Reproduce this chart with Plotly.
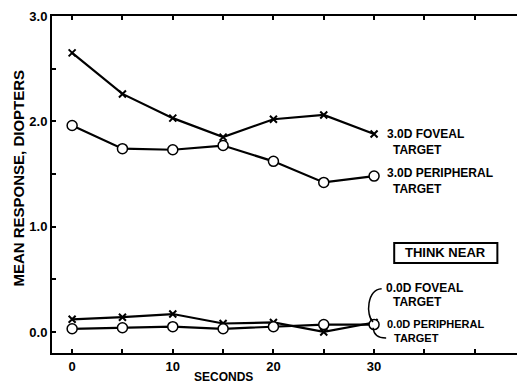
import plotly.graph_objects as go

# Time after onset of the "think near" instruction (s)
seconds = [0, 5, 10, 15, 20, 25, 30]

# Mean accommodative response (diopters)
foveal_3d = [2.65, 2.26, 2.03, 1.85, 2.02, 2.06, 1.88]
peripheral_3d = [1.96, 1.74, 1.73, 1.77, 1.62, 1.42, 1.48]
foveal_0d = [0.12, 0.14, 0.17, 0.08, 0.09, 0.00, 0.09]
peripheral_0d = [0.03, 0.04, 0.05, 0.03, 0.05, 0.07, 0.07]

x_tick_vals = [0, 5, 10, 15, 20, 25, 30, 35, 40]
x_tick_text = ["0", "", "10", "", "20", "", "30", "", ""]
y_tick_vals = [0.0, 0.5, 1.0, 1.5, 2.0, 2.5, 3.0]
y_tick_text = ["0.0", "", "1.0", "", "2.0", "", "3.0"]

FONT = "Liberation Sans, Arial, sans-serif"
INK = "black"


def lettering(size):
    return dict(family=FONT, size=size, color=INK, weight="bold")


fig = go.Figure()


def add_series(yvals, symbol):
    if symbol == "circle":
        marker = dict(symbol="circle", size=10, color="white",
                      line=dict(color=INK, width=1.5))
    else:
        marker = dict(symbol="x-thin", size=7, color=INK,
                      line=dict(color=INK, width=2))
    fig.add_trace(go.Scatter(
        x=seconds, y=yvals, mode="lines+markers",
        line=dict(color=INK, width=2.2), marker=marker,
        showlegend=False, hoverinfo="skip"))


add_series(foveal_3d, "x")
add_series(peripheral_3d, "circle")
add_series(foveal_0d, "x")
add_series(peripheral_0d, "circle")

# Curve labels placed beside the last points
labels = [
    ("3.0D FOVEAL", 31.05, foveal_3d[-1] - 0.005, 12),
    ("TARGET", 31.7, foveal_3d[-1] - 0.155, 12),
    ("3.0D PERIPHERAL", 31.05, peripheral_3d[-1] + 0.03, 12),
    ("TARGET", 31.7, peripheral_3d[-1] - 0.12, 12),
    ("0.0D FOVEAL", 30.95, 0.415, 12),
    ("TARGET", 31.7, 0.28, 12),
    ("0.0D PERIPHERAL", 31.1, 0.075, 11),
    ("TARGET", 31.8, -0.058, 11),
]
for text, x, y, size in labels:
    fig.add_annotation(x=x, y=y, xref="x", yref="y", text=text,
                       showarrow=False, xanchor="left", yanchor="middle",
                       font=lettering(size))

# Condition box
fig.add_shape(type="rect", xref="x", yref="y", x0=32.0, x1=42.25,
              y0=0.655, y1=0.845, line=dict(color=INK, width=2),
              fillcolor="white")
fig.add_annotation(x=37.1, y=0.75, xref="x", yref="y", text="THINK NEAR",
                   showarrow=False, xanchor="center", yanchor="middle",
                   font=lettering(13))

# Leader brackets tying the 0.0D labels to their curves
fig.add_shape(type="path", xref="x", yref="y",
              path="M 30.75,0.41 C 29.3,0.40 29.15,0.16 29.9,0.095",
              line=dict(color=INK, width=1.5))
fig.add_shape(type="path", xref="x", yref="y",
              path="M 29.9,0.04 Q 30.0,-0.06 31.2,-0.058",
              line=dict(color=INK, width=1.5))

# Axis titles
fig.add_annotation(x=-0.072, y=0.519, xref="paper", yref="paper",
                   text="MEAN RESPONSE, DIOPTERS", textangle=-90,
                   showarrow=False, xanchor="center", yanchor="middle",
                   font=lettering(15))
fig.add_annotation(x=15, y=-0.071, xref="x", yref="paper",
                   text="SECONDS", showarrow=False,
                   xanchor="center", yanchor="middle",
                   font=lettering(12))

fig.update_xaxes(range=[-2, 44.2], tickvals=x_tick_vals, ticktext=x_tick_text,
                 ticks="inside", ticklen=4, tickwidth=1.5, tickcolor=INK,
                 showline=True, linecolor=INK, linewidth=2, mirror="ticks",
                 showgrid=False, zeroline=False,
                 tickfont=lettering(13))
fig.update_yaxes(range=[-0.2, 3.0], tickvals=y_tick_vals, ticktext=y_tick_text,
                 ticks="inside", ticklen=4, tickwidth=1.5, tickcolor=INK,
                 showline=True, linecolor=INK, linewidth=2,
                 showgrid=False, zeroline=False,
                 tickfont=lettering(13))

fig.update_layout(width=517, height=385,
                  margin=dict(l=52, r=0, t=16, b=32),
                  plot_bgcolor="white", paper_bgcolor="white")

fig.write_html("out.html")
